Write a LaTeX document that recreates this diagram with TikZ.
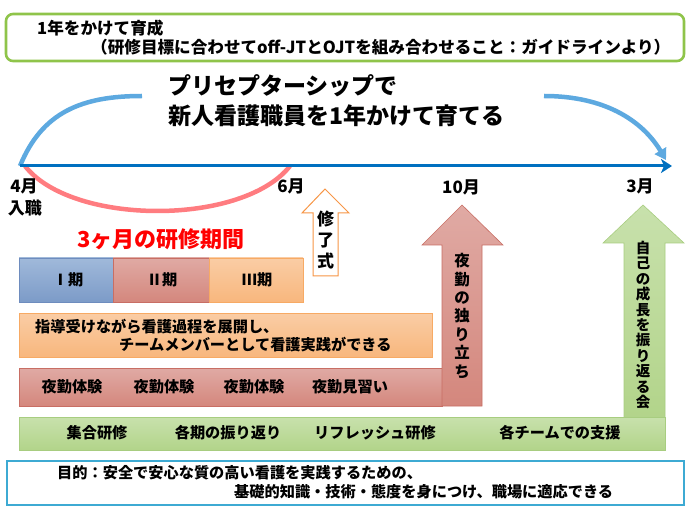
\documentclass[tikz,border=0pt]{standalone}
\usepackage{fontspec}
\setmainfont{Noto Sans CJK JP}
\usetikzlibrary{arrows.meta}
\definecolor{boxgreen}{HTML}{8FC44A}
\definecolor{boxblue}{HTML}{3DAAD3}
\definecolor{lineblue}{HTML}{0070C0}
\definecolor{arcblue}{HTML}{5DA9E0}
\definecolor{arcpink}{HTML}{FF7C80}
\definecolor{orng}{HTML}{F79646}
\definecolor{pIt}{RGB}{160,185,218}
\definecolor{pIb}{RGB}{124,155,200}
\definecolor{pId}{RGB}{110,140,190}
\definecolor{pIIt}{RGB}{224,170,164}
\definecolor{pIIb}{RGB}{212,135,125}
\definecolor{pIId}{RGB}{200,110,100}
\definecolor{pIIIt}{RGB}{250,205,165}
\definecolor{pIIIb}{RGB}{248,183,125}
\definecolor{pIIId}{RGB}{247,170,100}
\definecolor{pGt}{RGB}{200,225,172}
\definecolor{pGb}{RGB}{178,212,138}
\definecolor{pGd}{RGB}{168,205,128}
\tikzset{
  txt/.style={font=\bfseries\fontsize{15.2}{17}\selectfont, inner sep=0pt},
  toptxt/.style={font=\bfseries\fontsize{16.6}{18}\selectfont, inner sep=0pt, anchor=west},
  title/.style={font=\bfseries\fontsize{23}{26}\selectfont, inner sep=0pt, anchor=west},
  month/.style={font=\bfseries\fontsize{17}{19}\selectfont, inner sep=0pt},
  vtxt/.style={inner sep=0pt, align=center},
  pI/.style={top color=pIt, bottom color=pIb, draw=pId},
  pII/.style={top color=pIIt, bottom color=pIIb, draw=pIId},
  pIII/.style={top color=pIIIt, bottom color=pIIIb, draw=pIIId},
  pgreen/.style={top color=pGt, bottom color=pGb, draw=pGd},
}
\begin{document}
\begin{tikzpicture}[x=1pt,y=-1pt]
\useasboundingbox (0,0) rectangle (690,518);
\fill[white] (0,0) rectangle (690,518);

% top box
\draw[boxgreen, line width=2.6pt, rounded corners=7pt] (6,14) rectangle (684,61);
\node[toptxt] (t1) at (37,28) {1年をかけて育成};
\node[toptxt] (t2) at (91,47) {（研修目標に合わせてoff-JTとOJTを組み合わせること：ガイドラインより）};

% title
\node[title] (h1) at (168,86) {プリセプターシップで};
\node[title] (h2) at (168,116) {新人看護職員を1年かけて育てる};

% arcs and timeline
\draw[arcpink, line width=4.5pt] (25,166) .. controls (72,226) and (243,226) .. (290,166);
\coordinate (tl0) at (20,166);
\coordinate (tl1) at (672,166);
\draw[arcblue, line width=4.5pt] (tl0) .. controls (42,112) and (82,96) .. (142,96);
\draw[arcblue, line width=4.5pt, -{Triangle[length=11pt,width=13pt]}] (544,96) .. controls (604,96) and (642,120) .. (666,160);
\draw[lineblue, line width=3pt, -{Stealth[length=11pt,width=14pt,inset=3pt]}] (tl0) -- (tl1);

% months
\node[month] (m4) at (24,186) {4月};
\node[month] (nyu) at (25,208) {入職};
\node[month] (m6) at (291,186) {6月};
\node[month] (m10) at (461,187) {10月};
\node[month] (m3) at (640,186) {3月};

% 修了式 arrow
\draw[orng, line width=1pt, fill=white] (325,189) -- (349,213) -- (338,213) -- (338,276) -- (313,276) -- (313,213) -- (302,213) -- cycle;
\node[vtxt, font=\bfseries\fontsize{17}{21}\selectfont] (shu) at (325.5,240) {修\\了\\式};

% 3ヶ月
\node[font=\bfseries\fontsize{22}{24}\selectfont, text=red, inner sep=0pt] (san) at (161,239) {3ヶ月の研修期間};

% period boxes
\shadedraw[pI, line width=0.6pt] (19,258) rectangle (113,302);
\shadedraw[pII, line width=0.6pt] (113,258) rectangle (209,302);
\shadedraw[pIII, line width=0.6pt] (209,258) rectangle (303,302);
\node[txt] (p1) at (68,280) {Ⅰ期};
\node[txt] (p2) at (162,280) {Ⅱ期};
\node[txt] (p3) at (257,280) {Ⅲ期};

% orange box
\shadedraw[pIII, line width=0.6pt] (19,313) rectangle (432,357);
\node[txt, anchor=west] (o1) at (35,327) {指導受けながら看護過程を展開し、};
\node[txt, anchor=west] (o2) at (119,345) {チームメンバーとして看護実践ができる};

% red box
\shadedraw[pII, line width=0.6pt] (19,368) rectangle (442,406);
\node[txt] (r1) at (72,387) {夜勤体験};
\node[txt] (r2) at (164,387) {夜勤体験};
\node[txt] (r3) at (254,387) {夜勤体験};
\node[txt] (r4) at (350,387) {夜勤見習い};

% red arrow
\shadedraw[pII, line width=0.6pt] (462,205) -- (503,245) -- (482,245) -- (482,406) -- (442,406) -- (442,245) -- (422,245) -- cycle;
\node[vtxt, font=\bfseries\fontsize{15.5}{18.4}\selectfont] (ra) at (462,316) {夜\\勤\\の\\独\\り\\立\\ち};

% green arrow
\shadedraw[pgreen, line width=0.6pt] (643,205) -- (684,243) -- (665,243) -- (665,420) -- (624,420) -- (624,243) -- (603,243) -- cycle;
\node[vtxt, font=\bfseries\fontsize{14.5}{15.4}\selectfont] (ga) at (643,325) {自\\己\\の\\成\\長\\を\\振\\り\\返\\る\\会};

% green box
\shadedraw[pgreen, line width=0.6pt] (19,417) rectangle (665,450);
\node[txt] (g1) at (97,433) {集合研修};
\node[txt] (g2) at (228,433) {各期の振り返り};
\node[txt] (g3) at (375,433) {リフレッシュ研修};
\node[txt] (g4) at (560,433) {各チームでの支援};

% bottom box
\draw[boxblue, line width=2.6pt] (7,461) rectangle (684,505);
\node[txt, anchor=west] (b1) at (57,473) {目的：安全で安心な質の高い看護を実践するための、};
\node[txt, anchor=west] (b2) at (234,492) {基礎的知識・技術・態度を身につけ、職場に適応できる};
\end{tikzpicture}
\end{document}
